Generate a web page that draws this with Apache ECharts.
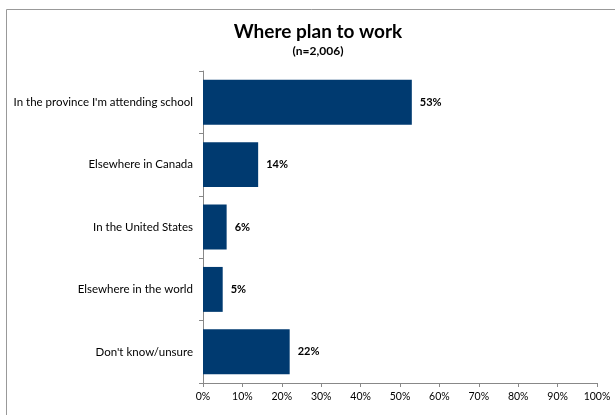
<!DOCTYPE html>
<html><head><meta charset="utf-8">
<script src="https://cdn.jsdelivr.net/npm/echarts@6/dist/echarts.min.js"></script>
<style>html,body{margin:0;padding:0;background:#fff}#c{width:615px;height:415px}</style>
</head><body><div id="c"></div>
<script>
var categories = ["In the province I'm attending school", "Elsewhere in Canada", "In the United States", "Elsewhere in the world", "Don't know/unsure"];
var values = [53, 14, 6, 5, 22];
var chart = echarts.init(document.getElementById('c'), null, {renderer: 'canvas'});
var font = 'Lato, "Open Sans", sans-serif';
chart.setOption({
  animation: false,
  backgroundColor: '#fff',
  graphic: [{type: 'rect', shape: {x: 6.5, y: 9.5, width: 700, height: 500}, style: {fill: 'none', stroke: '#999', lineWidth: 1}}],
  title: {
    text: 'Where plan to work', subtext: '(n=2,006)', left: 313, top: 17, textAlign: 'center', itemGap: 4,
    textStyle: {fontFamily: font, fontSize: 19, fontWeight: 'bold', color: '#000'},
    subtextStyle: {fontFamily: font, fontSize: 12, fontWeight: 'bold', color: '#000'}
  },
  grid: {left: 203, right: 18, top: 71, bottom: 32, containLabel: false},
  xAxis: {
    type: 'value', min: 0, max: 100, interval: 10,
    axisLine: {show: true, lineStyle: {color: '#888'}},
    axisTick: {show: true, length: 4, lineStyle: {color: '#888'}},
    splitLine: {show: false},
    axisLabel: {formatter: '{value}%', fontFamily: font, fontSize: 10.5, color: '#000', margin: 8}
  },
  yAxis: {
    type: 'category', data: categories, inverse: true,
    axisLine: {show: true, lineStyle: {color: '#888'}},
    axisTick: {show: true, length: 4, lineStyle: {color: '#888'}},
    axisLabel: {fontFamily: font, fontSize: 11.5, color: '#000', margin: 10}
  },
  series: [{
    type: 'bar', data: values, barCategoryGap: '28%',
    itemStyle: {color: '#003A70'},
    label: {show: true, position: 'right', distance: 8, formatter: '{c}%', fontFamily: font, fontSize: 11, fontWeight: 'bold', color: '#000'}
  }]
});
</script></body></html>
